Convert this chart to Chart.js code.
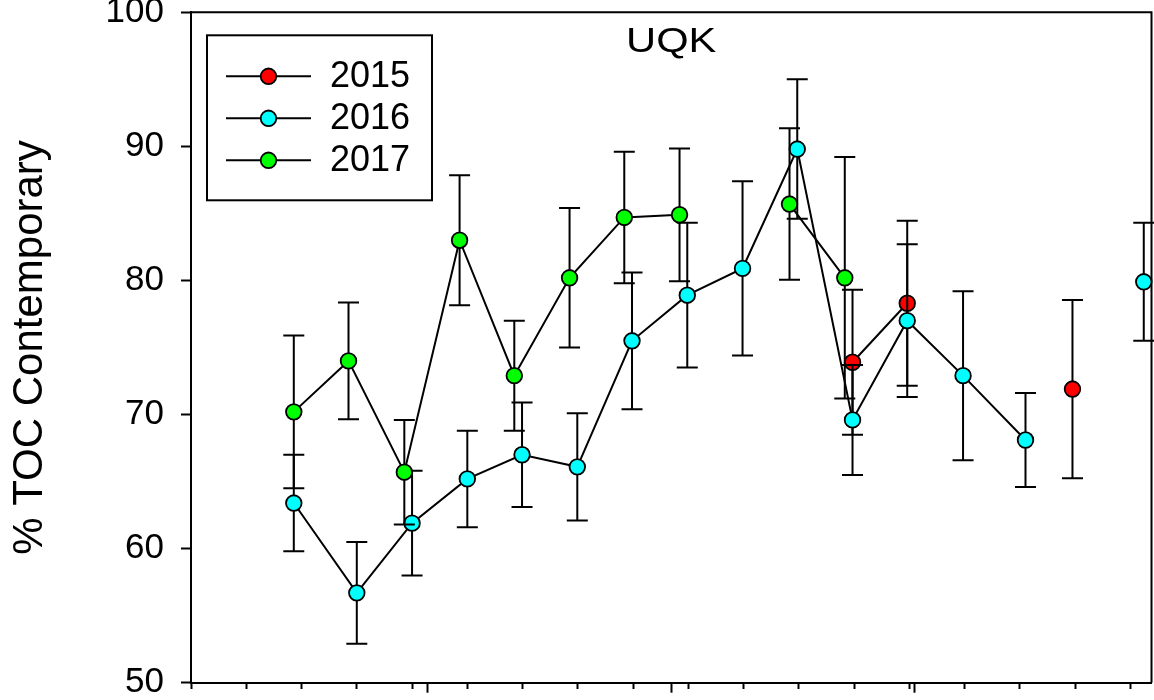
<!DOCTYPE html>
<html>
<head>
<meta charset="utf-8">
<title>UQK</title>
<script src="https://cdn.jsdelivr.net/npm/chart.js@4.4.1/dist/chart.umd.min.js"></script>
<style>
  html, body { margin: 0; padding: 0; background: #ffffff; }
  canvas { display: block; }
</style>
</head>
<body>
<canvas id="chart" width="1154" height="700"></canvas>
<script>
const FONT = "'Liberation Sans', Arial, Helvetica, sans-serif";

// Panel title and axis text
const panelTitle = 'UQK';
const yAxisTitle = '% TOC Contemporary';
const seriesNames = ['2015', '2016', '2017'];
const seriesColors = ['#ff0000', '#00ffff', '#00ff00'];

// Axis ticks
const yTickValues = [50, 60, 70, 80, 90, 100];
const xMinorTicks = [0, 1, 2, 3, 4, 5, 6, 7, 8, 9, 10, 11, 12, 13, 14, 15, 16, 17];
const xMajorTicks = [4.28, 8.70, 13.10];
const xMin = 0;
const xMax = 17.38;

// 2015 (null breaks the line)
const x2015 = [11.97, 12.96, 14.50, 15.95];
const y2015 = [73.9, 78.3, null, 71.9];
const e2015 = [5.4, 6.15, null, 6.65];

// 2016
const x2016 = [1.86, 3.00, 4.00, 5.00, 5.99, 6.99, 7.98, 8.98, 9.98, 10.97, 11.97, 12.96, 13.97, 15.10, 16.20, 17.24];
const y2016 = [63.4, 56.7, 61.9, 65.2, 67.0, 66.1, 75.5, 78.9, 80.9, 89.8, 69.6, 77.0, 72.9, 68.1, null, 79.9];
const e2016 = [3.6, 3.8, 3.9, 3.6, 3.9, 4.0, 5.1, 5.4, 6.5, 5.2, 4.1, 5.7, 6.3, 3.5, null, 4.4];

// 2017
const x2017 = [1.86, 2.85, 3.86, 4.86, 5.85, 6.85, 7.84, 8.84, 9.80, 10.83, 11.83];
const y2017 = [70.2, 74.0, 65.7, 83.0, 72.9, 80.2, 84.7, 84.9, null, 85.7, 80.2];
const e2017 = [5.7, 4.35, 3.9, 4.85, 4.1, 5.2, 4.9, 4.95, null, 5.65, 9.0];

function points(xs, ys) {
  return xs.map((x, i) => ({ x: x, y: ys[i] }));
}

function series(idx, xs, ys, errs, order) {
  return {
    label: seriesNames[idx],
    data: points(xs, ys),
    errors: errs,
    order: order,
    borderColor: '#000000',
    borderWidth: 2,
    backgroundColor: seriesColors[idx],
    pointBackgroundColor: seriesColors[idx],
    pointBorderColor: '#000000',
    pointBorderWidth: 1.8,
    pointRadius: 7.8,
    pointHoverRadius: 7.8,
    tension: 0,
    spanGaps: false,
    clip: false,
    fill: false
  };
}

// Vertical error bars with caps, drawn just before each series so its markers sit on top
const errorBars = {
  id: 'errorBars',
  beforeDatasetDraw(chart, args) {
    const ds = chart.data.datasets[args.index];
    if (!ds.errors) return;
    const xs = chart.scales.x, ys = chart.scales.y;
    const ctx = chart.ctx;
    const cap = 10.5;
    ctx.save();
    ctx.strokeStyle = '#000000';
    ctx.lineWidth = 2;
    ds.data.forEach((p, i) => {
      const e = ds.errors[i];
      if (p.y == null || e == null) return;
      const px = xs.getPixelForValue(p.x);
      const top = ys.getPixelForValue(p.y + e);
      const bot = ys.getPixelForValue(p.y - e);
      ctx.beginPath();
      ctx.moveTo(px, top); ctx.lineTo(px, bot);
      ctx.moveTo(px - cap, top); ctx.lineTo(px + cap, top);
      ctx.moveTo(px - cap, bot); ctx.lineTo(px + cap, bot);
      ctx.stroke();
    });
    ctx.restore();
  }
};

// Top and right sides of the plot frame
const plotFrame = {
  id: 'plotFrame',
  beforeDatasetsDraw(chart) {
    const a = chart.chartArea, ctx = chart.ctx;
    ctx.save();
    ctx.strokeStyle = '#000000';
    ctx.lineWidth = 2;
    ctx.beginPath();
    ctx.moveTo(a.left, a.top);
    ctx.lineTo(a.right, a.top);
    ctx.lineTo(a.right, a.bottom);
    ctx.stroke();
    ctx.restore();
  }
};

// Panel title and boxed legend inside the plot area
const panelDecor = {
  id: 'panelDecor',
  afterDraw(chart) {
    const a = chart.chartArea, ctx = chart.ctx;
    ctx.save();
    ctx.fillStyle = '#000000';
    ctx.font = '35px ' + FONT;
    ctx.textAlign = 'center';
    ctx.textBaseline = 'alphabetic';
    ctx.translate((a.left + a.right) / 2, a.top + 39.5);
    ctx.scale(1.19, 1);
    ctx.fillText(panelTitle, 0, 0);
    ctx.restore();

    const bx = a.left + 16, by = a.top + 23, bw = 225, bh = 165;
    ctx.save();
    ctx.fillStyle = '#ffffff';
    ctx.fillRect(bx, by, bw, bh);
    ctx.strokeStyle = '#000000';
    ctx.lineWidth = 2;
    ctx.strokeRect(bx, by, bw, bh);
    seriesNames.forEach((name, i) => {
      const ry = by + 41 + i * 42;
      ctx.beginPath();
      ctx.moveTo(bx + 19, ry);
      ctx.lineTo(bx + 104, ry);
      ctx.lineWidth = 2;
      ctx.strokeStyle = '#000000';
      ctx.stroke();
      ctx.beginPath();
      ctx.arc(bx + 61.5, ry, 7.8, 0, Math.PI * 2);
      ctx.fillStyle = seriesColors[i];
      ctx.fill();
      ctx.lineWidth = 1.8;
      ctx.stroke();
      ctx.fillStyle = '#000000';
      ctx.font = '36px ' + FONT;
      ctx.textAlign = 'left';
      ctx.textBaseline = 'middle';
      ctx.fillText(name, bx + 123, ry + 1);
    });
    ctx.restore();
  }
};

new Chart(document.getElementById('chart'), {
  type: 'line',
  data: {
    datasets: [
      series(0, x2015, y2015, e2015, 3),
      series(1, x2016, y2016, e2016, 2),
      series(2, x2017, y2017, e2017, 1)
    ]
  },
  options: {
    responsive: false,
    devicePixelRatio: 1,
    animation: false,
    events: [],
    layout: { autoPadding: false, padding: { left: 0, right: 2.5, top: 12.3, bottom: 0 } },
    plugins: {
      legend: { display: false },
      title: { display: false },
      tooltip: { enabled: false }
    },
    scales: {
      x: {
        type: 'linear',
        min: xMin,
        max: xMax,
        afterBuildTicks(scale) {
          const t = xMinorTicks.map(v => ({ value: v }))
            .concat(xMajorTicks.map(v => ({ value: v, major: true })));
          t.sort((p, q) => p.value - q.value);
          scale.ticks = t;
        },
        ticks: { display: false },
        grid: {
          display: true,
          drawOnChartArea: false,
          drawTicks: true,
          tickLength: 10,
          tickWidth: 2,
          tickColor: '#000000',
          tickBorderDash: (c) => (c.tick && c.tick.major) ? [] : [5, 40]
        },
        border: { display: true, color: '#000000', width: 2 },
        afterFit(scale) {
          scale.height = 17.3;
          scale.paddingLeft = 0;
          scale.paddingRight = 0;
        }
      },
      y: {
        type: 'linear',
        min: 50,
        max: 100,
        afterBuildTicks(scale) {
          scale.ticks = yTickValues.map(v => ({ value: v }));
        },
        ticks: {
          font: { family: FONT, size: 35 },
          color: '#000000',
          padding: 17
        },
        grid: {
          display: true,
          drawOnChartArea: false,
          drawTicks: true,
          tickLength: 10,
          tickWidth: 2,
          tickColor: '#000000'
        },
        border: { display: true, color: '#000000', width: 2 },
        title: {
          display: true,
          text: yAxisTitle,
          color: '#000000',
          font: { family: FONT, size: 42, lineHeight: 1 },
          padding: { top: 9, bottom: 0 }
        },
        afterFit(scale) {
          scale.width = 191;
          scale.paddingTop = 0;
          scale.paddingBottom = 0;
        }
      }
    }
  },
  plugins: [plotFrame, errorBars, panelDecor]
});
</script>
</body>
</html>
